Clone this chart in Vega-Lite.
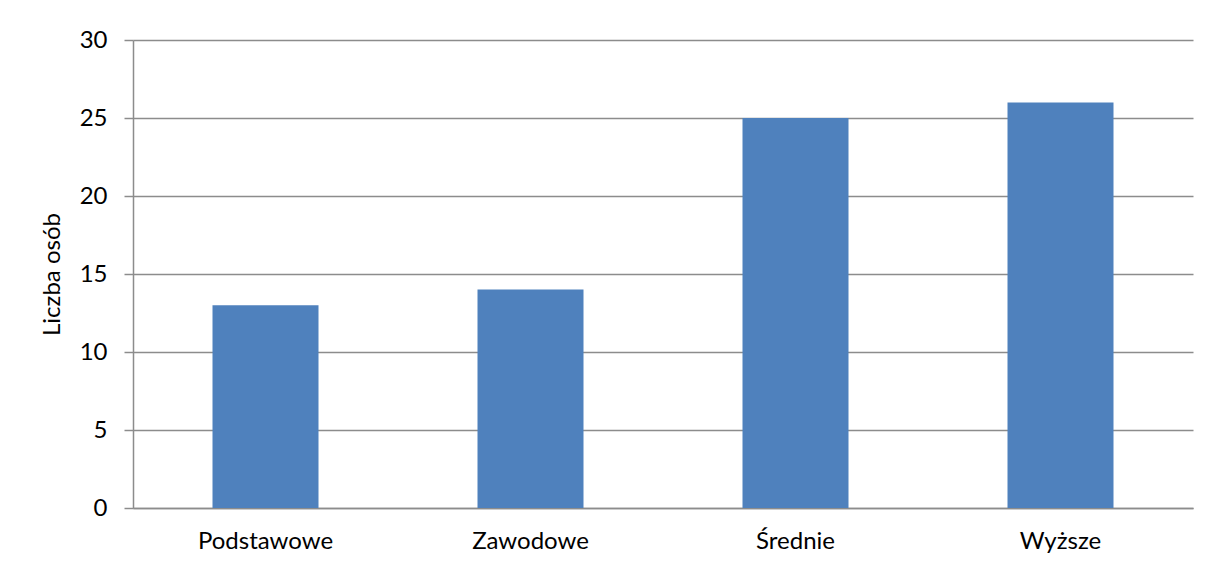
{
  "$schema": "https://vega.github.io/schema/vega-lite/v6.json",
  "autosize": "none",
  "padding": {"left": 133, "top": 40, "right": 17, "bottom": 58},
  "width": 1060,
  "height": 468,
  "background": "white",
  "data": {
    "values": [
      {"wyksztalcenie": "Podstawowe", "liczba": 13},
      {"wyksztalcenie": "Zawodowe", "liczba": 14},
      {"wyksztalcenie": "Średnie", "liczba": 25},
      {"wyksztalcenie": "Wyższe", "liczba": 26}
    ]
  },
  "mark": {"type": "bar", "color": "#4F81BD"},
  "encoding": {
    "x": {
      "field": "wyksztalcenie",
      "type": "nominal",
      "sort": null,
      "scale": {"paddingInner": 0.6, "paddingOuter": 0.3},
      "axis": {
        "title": null,
        "labelAngle": 0,
        "ticks": false,
        "domain": true,
        "domainColor": "#8c8c8c",
        "domainWidth": 1.5,
        "labelPadding": 21,
        "grid": false
      }
    },
    "y": {
      "field": "liczba",
      "type": "quantitative",
      "scale": {"domain": [0, 30]},
      "axis": {
        "title": "Liczba osób",
        "values": [0, 5, 10, 15, 20, 25, 30],
        "tickSize": 9,
        "tickColor": "#8c8c8c",
        "tickWidth": 1.5,
        "domainColor": "#8c8c8c",
        "domainWidth": 1.5,
        "gridColor": "#8c8c8c",
        "gridWidth": 1.5,
        "labelPadding": 17,
        "titlePadding": 15
      }
    }
  },
  "config": {
    "view": {"stroke": null},
    "axis": {
      "labelFont": "Lato",
      "labelFontSize": 24,
      "labelColor": "#000000",
      "titleFont": "Lato",
      "titleFontSize": 24,
      "titleFontWeight": "normal",
      "titleColor": "#000000"
    }
  }
}
